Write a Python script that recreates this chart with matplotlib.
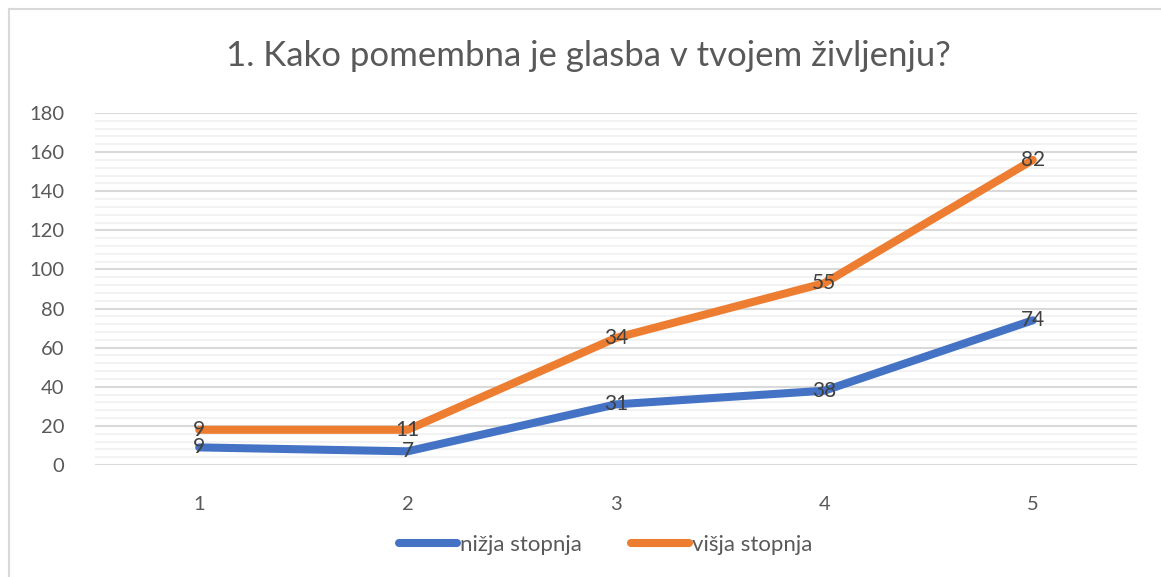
import numpy as np
import matplotlib.pyplot as plt
from matplotlib.lines import Line2D

categories = ['1', '2', '3', '4', '5']
nizja = [9, 7, 31, 38, 74]
visja = [9, 11, 34, 55, 82]
series_names = ['nižja stopnja', 'višja stopnja']
title = '1. Kako pomembna je glasba v tvojem življenju?'

plt.rcParams['font.family'] = ['Lato', 'DejaVu Sans']

W, H = 1161, 577
fig = plt.figure(figsize=(W / 100, H / 100), dpi=100)
ax = fig.add_axes([95 / W, 1 - 465 / H, (1137 - 95) / W, (465 - 113) / H])

x = np.arange(1, len(categories) + 1)
stacked = np.array(nizja) + np.array(visja)

blue = '#4472C4'
orange = '#ED7D31'
ax.plot(x, nizja, color=blue, lw=5.8, solid_capstyle='round', solid_joinstyle='round', zorder=3)
ax.plot(x, stacked, color=orange, lw=5.8, solid_capstyle='round', solid_joinstyle='round', zorder=3)

for xi, yi, v in zip(x, nizja, nizja):
    ax.text(xi, yi, str(v), ha='center', va='center', fontsize=15, color='#404040', zorder=4)
for xi, yi, v in zip(x, stacked, visja):
    ax.text(xi, yi, str(v), ha='center', va='center', fontsize=15, color='#404040', zorder=4)

ax.set_xlim(0.5, 5.5)
ax.set_ylim(0, 180)
ax.set_yticks(np.arange(0, 181, 20))
ax.set_yticks(np.arange(0, 181, 4), minor=True)
ax.set_xticks(x)
ax.set_xticklabels(categories)
ax.grid(which='major', axis='y', color='#D9D9D9', lw=1.5, zorder=1)
ax.grid(which='minor', axis='y', color='#F2F2F2', lw=1.5, zorder=0)
ax.tick_params(axis='both', which='both', length=0, labelsize=14.5, labelcolor='#595959')
ax.tick_params(axis='y', pad=22)
ax.tick_params(axis='x', pad=22)
for s in ax.spines.values():
    s.set_visible(False)

fig.text(588 / W, 1 - 56 / H, title, ha='center', va='center', fontsize=25, color='#595959')

# chart border (left and top edges visible)
fig.add_artist(Line2D([8.5 / W, 8.5 / W], [0, 1 - 8.5 / H], color='#D9D9D9', lw=1.5))
fig.add_artist(Line2D([8.5 / W, 1], [1 - 8.5 / H, 1 - 8.5 / H], color='#D9D9D9', lw=1.5))

handles = [Line2D([], [], color=blue, lw=5.8, solid_capstyle='round'),
           Line2D([], [], color=orange, lw=5.8, solid_capstyle='round')]
fig.legend(handles, series_names, loc='center', bbox_to_anchor=(606 / W, 1 - 545 / H),
           ncol=2, frameon=False, fontsize=16, labelcolor='#595959',
           handlelength=2.6, handletextpad=0.15, columnspacing=2.2)

fig.savefig('out.png', dpi=100)
